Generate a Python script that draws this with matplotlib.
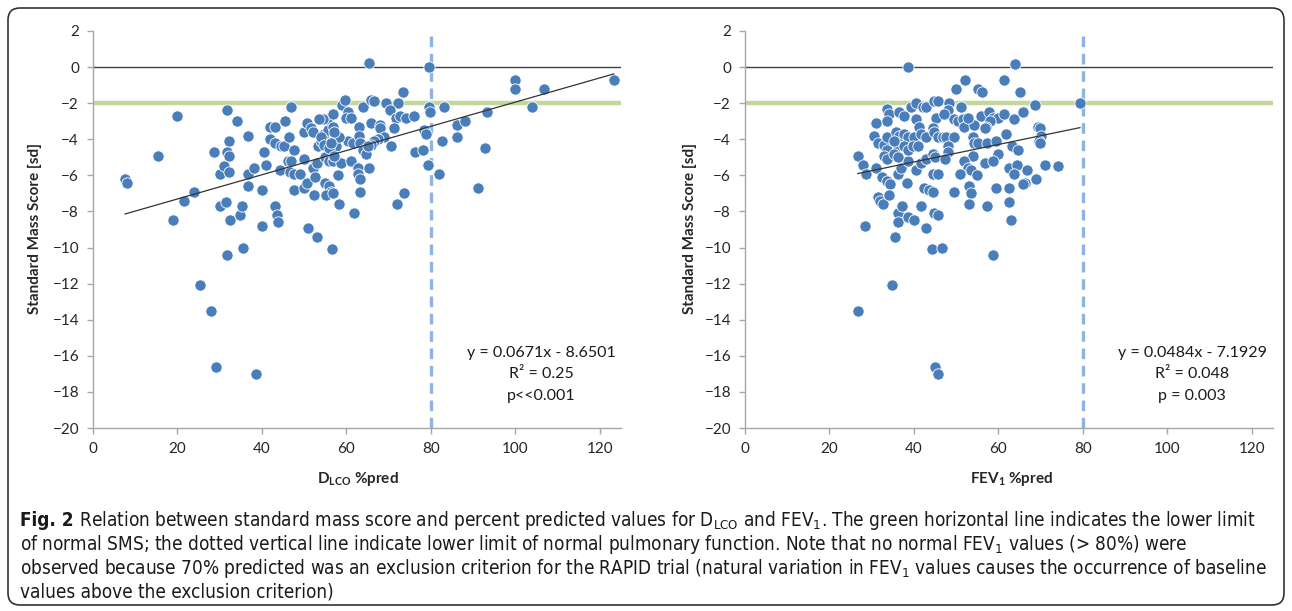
import numpy as np
import matplotlib.pyplot as plt
from matplotlib.patches import FancyBboxPatch
from matplotlib.transforms import IdentityTransform

plt.rcParams['font.family'] = ['Lato', 'DejaVu Sans']

# standard mass score vs DLCO %pred
dlco_pred = [7.6, 8.1, 15.4, 20.0, 19.0, 21.6, 24.0, 28.7, 30.0, 30.0, 31.4, 31.8, 32.3, 31.8, 32.3,
             31.0, 32.3, 32.5, 34.0, 34.7, 35.2, 36.6, 36.8, 38.0, 36.8, 40.0, 40.0, 40.6, 40.9, 41.8,
             43.0, 41.8, 43.0, 44.4, 45.1, 45.4, 46.3, 46.8, 44.2, 46.1, 46.8, 46.6, 47.5, 48.9, 47.5,
             47.5, 43.0, 43.5, 43.7, 50.0, 50.0, 50.6, 51.5, 52.0, 49.9, 50.6, 51.0, 53.0, 52.3, 52.5,
             52.0, 52.5, 53.0, 53.2, 54.0, 54.6, 55.6, 55.3, 54.4, 53.4, 55.0, 55.8, 56.8, 54.9, 55.8,
             56.3, 55.1, 56.8, 58.0, 58.2, 56.8, 57.5, 58.7, 58.9, 59.6, 60.3, 59.9, 61.0, 60.3, 61.5,
             58.2, 61.0, 62.7, 62.7, 63.2, 63.2, 61.8, 63.9, 62.9, 62.9, 63.2, 64.0, 64.6, 65.3, 65.8,
             65.8, 65.3, 56.8, 57.0, 79.6, 79.6, 79.8, 83.1, 73.4, 66.5, 69.4, 72.2, 70.3, 71.7, 72.7,
             74.1, 76.0, 67.9, 67.9, 71.3, 78.4, 78.9, 86.2, 88.1, 86.2, 82.7, 93.3, 92.9, 99.8, 100.0,
             106.7, 104.0, 123.3, 68.9, 67.5, 66.5, 65.8, 70.5, 76.2, 78.1, 79.3, 81.9, 91.2, 73.6, 72.0,
             25.4, 28.0, 29.2, 38.7, 31.8, 35.4, 56.5, 53.9, 54.6, 55.8, 56.3, 57.0, 65.1]
dlco_sms = [-6.2, -6.4, -4.9, -2.7, -8.5, -7.4, -6.9, -4.7, -5.9, -7.7, -7.5, -2.4, -4.1, -4.7, -4.9,
            -5.5, -5.8, -8.5, -3.0, -8.2, -7.7, -3.8, -5.9, -5.6, -6.6, -6.8, -8.8, -4.7, -5.4, -3.3,
            -3.3, -4.0, -4.2, -4.4, -4.4, -3.0, -3.9, -2.2, -5.7, -5.2, -5.2, -5.8, -5.9, -5.9, -4.6,
            -6.8, -7.7, -8.2, -8.6, -5.1, -3.6, -3.1, -3.4, -3.6, -6.7, -6.4, -8.9, -9.4, -7.1, -5.4,
            -5.6, -6.1, -5.3, -4.4, -4.1, -3.7, -3.5, -2.9, -2.9, -2.9, -5.0, -5.2, -5.2, -6.4, -6.6,
            -6.9, -7.1, -7.0, -6.0, -7.6, -2.6, -4.4, -5.3, -2.1, -1.8, -2.5, -2.8, -2.8, -4.1, -4.2,
            -3.9, -5.2, -5.6, -5.9, -6.2, -6.9, -8.1, -2.2, -3.3, -3.8, -4.2, -4.6, -4.8, 0.2, -1.8,
            -3.1, -5.6, -3.3, -3.6, 0.0, -2.2, -2.5, -2.2, -1.4, -1.9, -2.0, -2.0, -2.4, -2.8, -2.7,
            -2.8, -2.7, -3.2, -3.4, -3.4, -3.5, -3.7, -3.2, -3.0, -3.9, -4.1, -2.5, -4.5, -0.7, -1.2,
            -1.2, -2.2, -0.7, -3.9, -4.0, -4.1, -4.3, -4.4, -4.7, -4.6, -5.4, -5.9, -6.7, -7.0, -7.6,
            -12.1, -13.5, -16.6, -17.0, -10.4, -10.0, -10.1, -3.9, -4.3, -4.5, -4.2, -4.9, -4.4]

# standard mass score vs FEV1 %pred
fev1_pred = [38.7, 26.8, 28.0, 28.7, 30.9, 28.5, 30.9, 30.6, 31.6, 32.8, 33.7, 33.5, 33.0, 33.5, 33.5,
             34.0, 33.5, 32.5, 33.7, 34.4, 31.4, 31.9, 32.6, 34.2, 35.4, 36.2, 37.1, 36.2, 38.6, 40.0,
             41.7, 42.9, 38.3, 36.2, 36.9, 38.6, 40.5, 41.7, 42.9, 35.7, 36.4, 37.6, 38.6, 40.0, 36.2,
             37.6, 38.6, 39.8, 40.9, 35.2, 36.2, 36.4, 37.6, 39.3, 40.5, 42.1, 42.9, 40.5, 41.2, 41.7,
             42.9, 44.7, 45.6, 45.1, 44.4, 44.7, 44.4, 44.9, 44.4, 45.6, 42.4, 43.6, 44.4, 44.7, 45.6,
             64.0, 79.3, 68.6, 52.1, 50.0, 55.2, 56.2, 61.4, 65.2, 48.3, 51.2, 48.1, 49.5, 50.5, 51.7,
             51.9, 54.3, 55.9, 57.8, 58.8, 60.0, 61.4, 58.1, 57.1, 56.7, 63.8, 65.7, 61.9, 69.3, 69.8,
             70.0, 69.5, 69.8, 45.6, 46.8, 47.5, 49.5, 48.0, 48.0, 47.4, 54.0, 54.3, 55.2, 57.4, 59.5,
             63.3, 64.7, 60.0, 54.0, 51.9, 52.9, 53.4, 56.9, 58.8, 62.4, 64.3, 63.8, 66.7, 71.0, 74.0,
             51.0, 55.0, 69.0, 66.4, 65.9, 53.1, 53.6, 59.5, 62.4, 49.5, 62.4, 53.1, 57.4, 62.9, 44.3,
             46.7, 58.6, 34.7, 26.7, 45.0, 45.6, 47.0, 52.9, 35.2]
fev1_sms = [0.0, -4.9, -5.4, -5.9, -5.6, -8.8, -3.1, -3.8, -4.2, -4.3, -3.9, -4.6, -4.9, -5.1, -2.3,
            -2.6, -3.0, -6.1, -6.3, -6.5, -7.2, -7.4, -7.6, -7.1, -9.4, -8.1, -7.7, -8.6, -8.3, -8.5,
            -7.7, -8.9, -6.4, -5.9, -5.6, -5.2, -5.7, -5.3, -5.1, -3.6, -3.8, -3.7, -3.9, -3.9, -4.4,
            -4.4, -4.6, -4.4, -4.4, -4.8, -5.0, -2.5, -2.7, -2.2, -2.0, -2.2, -2.2, -2.9, -3.3, -3.7,
            -3.9, -1.9, -1.9, -2.8, -3.4, -3.6, -4.8, -5.0, -5.9, -5.9, -6.7, -6.8, -6.9, -8.1, -8.2,
            0.15, -2.0, -2.1, -0.7, -1.2, -1.2, -1.4, -0.7, -1.4, -2.0, -2.2, -2.4, -2.9, -3.0, -2.9,
            -3.3, -3.2, -2.7, -2.5, -2.8, -2.8, -2.6, -3.0, -3.3, -3.4, -2.9, -2.5, -3.7, -3.3, -3.4,
            -3.8, -4.1, -4.2, -3.9, -3.9, -3.9, -3.9, -4.4, -4.7, -5.1, -3.9, -4.2, -4.2, -4.2, -4.1,
            -4.4, -4.6, -4.8, -4.9, -5.2, -5.6, -5.7, -5.3, -5.2, -5.6, -5.4, -5.9, -5.7, -5.4, -5.5,
            -5.9, -6.0, -6.2, -6.4, -6.5, -6.6, -7.0, -6.7, -6.7, -6.9, -7.5, -7.6, -7.7, -8.5, -10.1,
            -10.0, -10.4, -12.1, -13.5, -16.6, -17.0, -2.6, -2.8, -4.1]

dlco_fit = (0.0671, -8.6501)
fev1_fit = (0.0484, -7.1929)
dlco_stats = ['y = 0.0671x - 8.6501', 'R² = 0.25', 'p<<0.001']
fev1_stats = ['y = 0.0484x - 7.1929', 'R² = 0.048', 'p = 0.003']

x_ticks = [0, 20, 40, 60, 80, 100, 120]
y_ticks = list(range(-20, 3, 2))

W, H = 1292, 611
fig = plt.figure(figsize=(W / 100, H / 100), dpi=100)


def draw_panel(left_px, right_px, x, y, fit):
    ax = fig.add_axes([left_px / W, 1 - 428 / H, (right_px - left_px) / W, 397 / H])
    ax.axhline(0, color='#404040', lw=1.0, zorder=1)
    ax.axhline(-2, color='#c3d69b', lw=3.2, zorder=1)
    ax.axvline(80, color='#8eb4e3', lw=2.4, linestyle=(0, (3.2, 2.0)), zorder=1)
    ax.scatter(x, y, s=66, c='#4a7ebb', edgecolors='white', linewidths=0.6, zorder=3)
    xs = np.array([min(x), max(x)])
    ax.plot(xs, fit[0] * xs + fit[1], color='#333333', lw=0.9, zorder=4)
    ax.set_xlim(0, 125)
    ax.set_ylim(-20, 2)
    ax.set_xticks(x_ticks)
    ax.set_yticks(y_ticks)
    for s in ['top', 'right']:
        ax.spines[s].set_visible(False)
    for s in ['left', 'bottom']:
        ax.spines[s].set_color('#a6a6a6')
        ax.spines[s].set_linewidth(1.0)
    ax.tick_params(direction='out', length=4, width=1, color='#a6a6a6',
                   labelsize=11, labelcolor='#262626', pad=6)
    return ax


draw_panel(93, 621, dlco_pred, dlco_sms, dlco_fit)
draw_panel(745, 1273, fev1_pred, fev1_sms, fev1_fit)

# axis titles
for xp in [35, 690]:
    fig.text(xp / W, 1 - 228 / H, 'Standard Mass Score [sd]', rotation=90, ha='center', va='center',
             fontsize=11, fontweight='bold', color='#262626')
fig.text(358 / W, 1 - 479 / H, r'D$\mathregular{_{LCO}}$ %pred', ha='center', va='center',
         fontsize=11, fontweight='bold', color='#262626')
fig.text(1012 / W, 1 - 479 / H, r'FEV$\mathregular{_1}$ %pred', ha='center', va='center',
         fontsize=11, fontweight='bold', color='#262626')

# regression annotations
for cx, lines in [(541, dlco_stats), (1192, fev1_stats)]:
    for i, t in enumerate(lines):
        fig.text(cx / W, 1 - (353 + 21.5 * i) / H, t, ha='center', va='center',
                 fontsize=11.5, color='#1a1a1a')

# caption
cap_font = 'DejaVu Sans'
cap_size = 13
cap_lines = [
    r' Relation between standard mass score and percent predicted values for D$\mathregular{_{LCO}}$ and FEV$\mathregular{_1}$. The green horizontal line indicates the lower limit',
    r'of normal SMS; the dotted vertical line indicate lower limit of normal pulmonary function. Note that no normal FEV$\mathregular{_1}$ values (> 80%) were',
    r'observed because 70% predicted was an exclusion criterion for the RAPID trial (natural variation in FEV$\mathregular{_1}$ values causes the occurrence of baseline',
    'values above the exclusion criterion)',
]
renderer = fig.canvas.get_renderer()
t0 = fig.text(20 / W, 1 - 521 / H, 'Fig. 2', family=cap_font, fontsize=cap_size, fontstretch='condensed',
              fontweight='bold', va='center', color='#1a1a1a')
texts = []
for i, line in enumerate(cap_lines):
    texts.append(fig.text(20 / W, 1 - (521 + 23.7 * i) / H, line, family=cap_font, fontsize=cap_size,
                          fontstretch='condensed', va='center', color='#1a1a1a'))

# size the caption so that the first line ends where the reference does
w0 = t0.get_window_extent(renderer=renderer).width
w1 = texts[0].get_window_extent(renderer=renderer).width
scale = min(1.1, 1236 / (w0 + w1))
t0.set_fontsize(cap_size * scale)
for t in texts:
    t.set_fontsize(cap_size * scale)
w0 = t0.get_window_extent(renderer=renderer).width
texts[0].set_x((20 + w0) / W)

# rounded frame around the figure
frame = FancyBboxPatch((8, 6), 1276, 597, boxstyle='round,pad=0,rounding_size=12',
                       transform=IdentityTransform(), fill=False, edgecolor='#333333', lw=1.2)
fig.add_artist(frame)

fig.savefig('out.png', dpi=100)
